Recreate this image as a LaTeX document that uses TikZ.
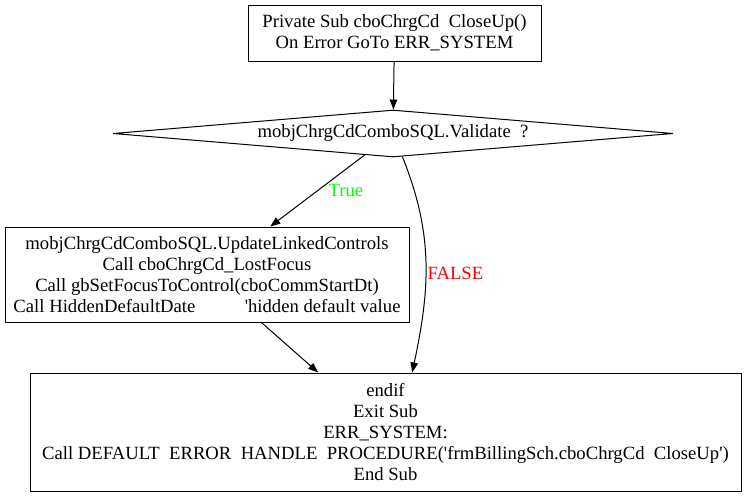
\documentclass[tikz,border=0pt]{standalone}
\usepackage{fontspec}
\newfontfamily\gvserif{Liberation Serif}
\usetikzlibrary{shapes.geometric, arrows.meta}
\definecolor{gvgreen}{RGB}{0,255,0}

\begin{document}
\begin{tikzpicture}[
  x=0.75pt, y=0.75pt,
  every node/.style={font=\gvserif\fontsize{14}{15.75}\selectfont},
  box/.style={rectangle, draw, line width=0.75pt, align=center, inner sep=0pt},
  decision/.style={diamond, draw, line width=0.75pt, aspect=12, inner sep=0pt,
                   minimum width=420pt, minimum height=35.25pt},
  edge/.style={-{Triangle[length=7.5pt,width=5.6pt]}, line width=0.75pt},
  lbl/.style={inner sep=0pt}
]
\useasboundingbox (0,0) rectangle (745,-496);

% Entry and test
\node[box, minimum width=219.75pt, minimum height=42pt] at (394.5,-33) (entry)
  {Private Sub cboChrgCd\ \ CloseUp()\\On Error GoTo ERR\_SYSTEM};
\node[decision] at (393,-133.5) (check) {mobjChrgCdComboSQL.Validate\ \ ?};

% True branch
\node[box, minimum width=303pt, minimum height=71.25pt] at (207,-274.5) (update)
  {mobjChrgCdComboSQL.UpdateLinkedControls\\Call cboChrgCd\_LostFocus\\
   Call gbSetFocusToControl(cboCommStartDt)\\
   Call HiddenDefaultDate\hspace{37pt}'hidden default value};

% Exit
\node[box, minimum width=533.25pt, minimum height=88.5pt] at (385.5,-432) (exit)
  {endif\\Exit Sub\\ERR\_SYSTEM:\\
   Call DEFAULT\ \ ERROR\ \ HANDLE\ \ PROCEDURE('frmBillingSch.cboChrgCd\ \ CloseUp')\\
   End Sub};

% Arrows
\draw[edge] (entry) -- (check);
\draw[edge] (check) -- node[lbl, text=gvgreen, midway, right=8pt] {True} (update);
\draw[edge] (check) to[out=-68, in=78]
  node[lbl, text=red, pos=0.55, right=1pt] {FALSE} ([xshift=20pt]exit.north);
\draw[edge] (update) -- (exit);
\end{tikzpicture}
\end{document}
